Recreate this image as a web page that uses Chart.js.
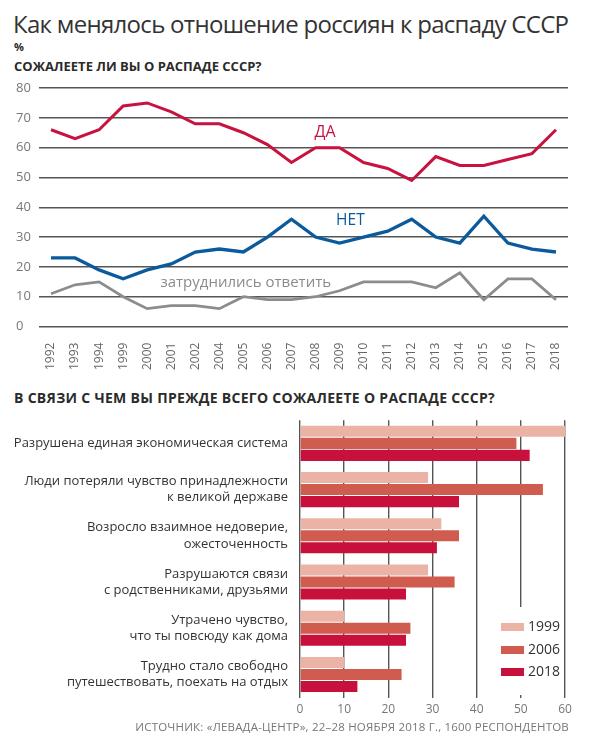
<!DOCTYPE html>
<html lang="ru">
<head>
<meta charset="utf-8">
<script src="https://cdn.jsdelivr.net/npm/chart.js@4/dist/chart.umd.min.js"></script>
<style>
    body { margin: 0; background: #fff; font-family: "Open Sans", "Noto Sans", sans-serif; color: #2b2b2b; }
    #page { position: relative; width: 600px; height: 744px; overflow: hidden; }
    .title { position: absolute; left: 13px; top: 7px; font-size: 24px; letter-spacing: -0.7px; color: #333; white-space: nowrap; }
    .unit { position: absolute; left: 14px; top: 39px; font-size: 11px; font-weight: bold; }
    .q { position: absolute; left: 14px; font-weight: bold; white-space: nowrap; }
    #topWrap { position: absolute; left: 0; top: 80px; width: 600px; height: 298px; }
    #bottomWrap { position: absolute; left: 0; top: 392px; width: 600px; height: 330px; }
    .legend { position: absolute; left: 494px; top: 607px; width: 64px; height: 88px; background: #fff; }
    .legend div { position: relative; height: 22.5px; font-size: 14px; line-height: 22px; padding-left: 34px; color: #333; }
    .legend span { position: absolute; left: 7px; top: 8px; width: 23px; height: 8px; }
    .legend div:first-child { margin-top: 8px; }
    .source { position: absolute; right: 31px; top: 719px; font-size: 11.5px; color: #777; white-space: nowrap; letter-spacing: 0.2px; }
</style>
</head>
<body>
<div id="page">
    <div class="title">Как менялось отношение россиян к распаду СССР</div>
    <div class="unit">%</div>
    <div class="q" style="top: 57px; font-size: 13px;">СОЖАЛЕЕТЕ ЛИ ВЫ О РАСПАДЕ СССР?</div>
    <div id="topWrap"><canvas id="trendChart"></canvas></div>

    <div class="q" style="top: 388px; font-size: 14px; letter-spacing: 0.3px;">В СВЯЗИ С ЧЕМ ВЫ ПРЕЖДЕ ВСЕГО СОЖАЛЕЕТЕ О РАСПАДЕ СССР?</div>
    <div id="bottomWrap"><canvas id="reasonChart"></canvas></div>
    <div class="legend" id="legend"></div>

    <div class="source">ИСТОЧНИК: «ЛЕВАДА-ЦЕНТР», 22–28 НОЯБРЯ 2018 Г., 1600 РЕСПОНДЕНТОВ</div>
</div>

<script>
// survey years (top chart)
const years = ['1992', '1993', '1994', '1999', '2000', '2001', '2002', '2004', '2005', '2006', '2007',
    '2008', '2009', '2010', '2011', '2012', '2013', '2014', '2015', '2016', '2017', '2018'];

const yesValues  = [66, 63, 66, 74, 75, 72, 68, 68, 65, 61, 55, 60, 60, 55, 53, 49, 57, 54, 54, 56, 58, 66];
const noValues   = [23, 23, 19, 16, 19, 21, 25, 26, 25, 30, 36, 30, 28, 30, 32, 36, 30, 28, 37, 28, 26, 25];
const hardValues = [11, 14, 15, 10, 6, 7, 7, 6, 10, 9, 9, 10, 12, 15, 15, 15, 13, 18, 9, 16, 16, 9];

const trendTicks = [0, 10, 20, 30, 40, 50, 60, 70, 80];

// reasons (bottom chart)
const reasons = [
    'Разрушена единая экономическая система',
    ['Люди потеряли чувство принадлежности', 'к великой державе'],
    ['Возросло взаимное недоверие,', 'ожесточенность'],
    ['Разрушаются связи', 'с родственниками, друзьями'],
    ['Утрачено чувство,', 'что ты повсюду как дома'],
    ['Трудно стало свободно', 'путешествовать, поехать на отдых']
];
const reasonYears = ['1999', '2006', '2018'];
const values1999 = [60, 29, 32, 29, 10, 10];
const values2006 = [49, 55, 36, 35, 25, 23];
const values2018 = [52, 36, 31, 24, 24, 13];
const reasonTicks = [0, 10, 20, 30, 40, 50, 60];

const RED = '#c8123f';
const BLUE = '#0b5a9c';
const GREY = '#8c8c8c';
const barColors = ['#ebb3a6', '#cf5c4f', '#c8103c'];
const gridColor = '#555';
const FONT = '"Open Sans", sans-serif';

// labels drawn inside the top chart (x = category index, y = value)
const lineNotes = [
    { text: 'ДА', x: 11.4, y: 65, color: RED, size: 16 },
    { text: 'НЕТ', x: 12.45, y: 35.6, color: BLUE, size: 15.5 },
    { text: 'затруднились ответить', x: 8.1, y: 14.6, color: GREY, size: 15 }
];

const notesPlugin = {
    id: 'notes',
    afterDatasetsDraw(chart) {
        const ctx = chart.ctx;
        const xs = chart.scales.x;
        const ys = chart.scales.y;
        ctx.save();
        ctx.textAlign = 'center';
        ctx.textBaseline = 'middle';
        lineNotes.forEach(n => {
            ctx.font = `${n.size}px ${FONT}`;
            ctx.fillStyle = n.color;
            ctx.fillText(n.text, xs.getPixelForValue(n.x), ys.getPixelForValue(n.y));
        });
        ctx.restore();
    }
};

function lineSet(data, color, width) {
    return {
        data: data,
        borderColor: color,
        borderWidth: width,
        pointRadius: 0,
        tension: 0,
        fill: false
    };
}

new Chart(document.getElementById('trendChart'), {
    type: 'line',
    data: {
        labels: years,
        datasets: [
            lineSet(hardValues, GREY, 2.8),
            lineSet(noValues, BLUE, 3.3),
            lineSet(yesValues, RED, 3)
        ]
    },
    options: {
        responsive: true,
        maintainAspectRatio: false,
        animation: false,
        layout: { padding: { left: 16, right: 32, top: 8, bottom: 0 } },
        plugins: { legend: { display: false }, tooltip: { enabled: false } },
        scales: {
            x: {
                offset: true,
                grid: { display: false },
                border: { display: false },
                ticks: {
                    minRotation: 90, maxRotation: 90, autoSkip: false,
                    color: '#666', padding: 8,
                    font: { family: FONT, size: 12 }
                }
            },
            y: {
                min: 0, max: 80,
                afterBuildTicks: axis => { axis.ticks = trendTicks.map(v => ({ value: v })); },
                afterFit: axis => { axis.width = 23; },
                grid: { color: gridColor, lineWidth: 1.4, drawTicks: false },
                border: { display: false },
                ticks: {
                    crossAlign: 'far', padding: 0, color: '#777',
                    font: { family: FONT, size: 13 }
                }
            }
        }
    },
    plugins: [notesPlugin]
});

const reasonSets = [values1999, values2006, values2018].map((vals, i) => ({
    label: reasonYears[i],
    data: vals,
    backgroundColor: barColors[i],
    barPercentage: 0.92,
    categoryPercentage: 0.78
}));

new Chart(document.getElementById('reasonChart'), {
    type: 'bar',
    data: { labels: reasons, datasets: reasonSets },
    options: {
        indexAxis: 'y',
        responsive: true,
        maintainAspectRatio: false,
        animation: false,
        layout: { padding: { left: 0, right: 35, top: 6, bottom: 0 } },
        plugins: { legend: { display: false }, tooltip: { enabled: false } },
        scales: {
            x: {
                min: 0, max: 60,
                afterBuildTicks: axis => { axis.ticks = reasonTicks.map(v => ({ value: v })); },
                grid: { color: gridColor, lineWidth: 1.4, drawTicks: false },
                border: { display: false },
                ticks: {
                    color: '#777', padding: 5,
                    font: { family: FONT, size: 12 }
                }
            },
            y: {
                afterFit: axis => { axis.width = 300; },
                grid: { display: false, drawTicks: false },
                border: { display: false },
                ticks: {
                    color: '#333', padding: 12, autoSkip: false,
                    font: { family: FONT, size: 13, lineHeight: 1.25 }
                }
            }
        }
    }
});

// legend inside the bar chart
const legendBox = document.getElementById('legend');
reasonYears.forEach((year, i) => {
    const row = document.createElement('div');
    const sw = document.createElement('span');
    sw.style.background = barColors[i];
    row.appendChild(sw);
    row.appendChild(document.createTextNode(year));
    legendBox.appendChild(row);
});
</script>
</body>
</html>
